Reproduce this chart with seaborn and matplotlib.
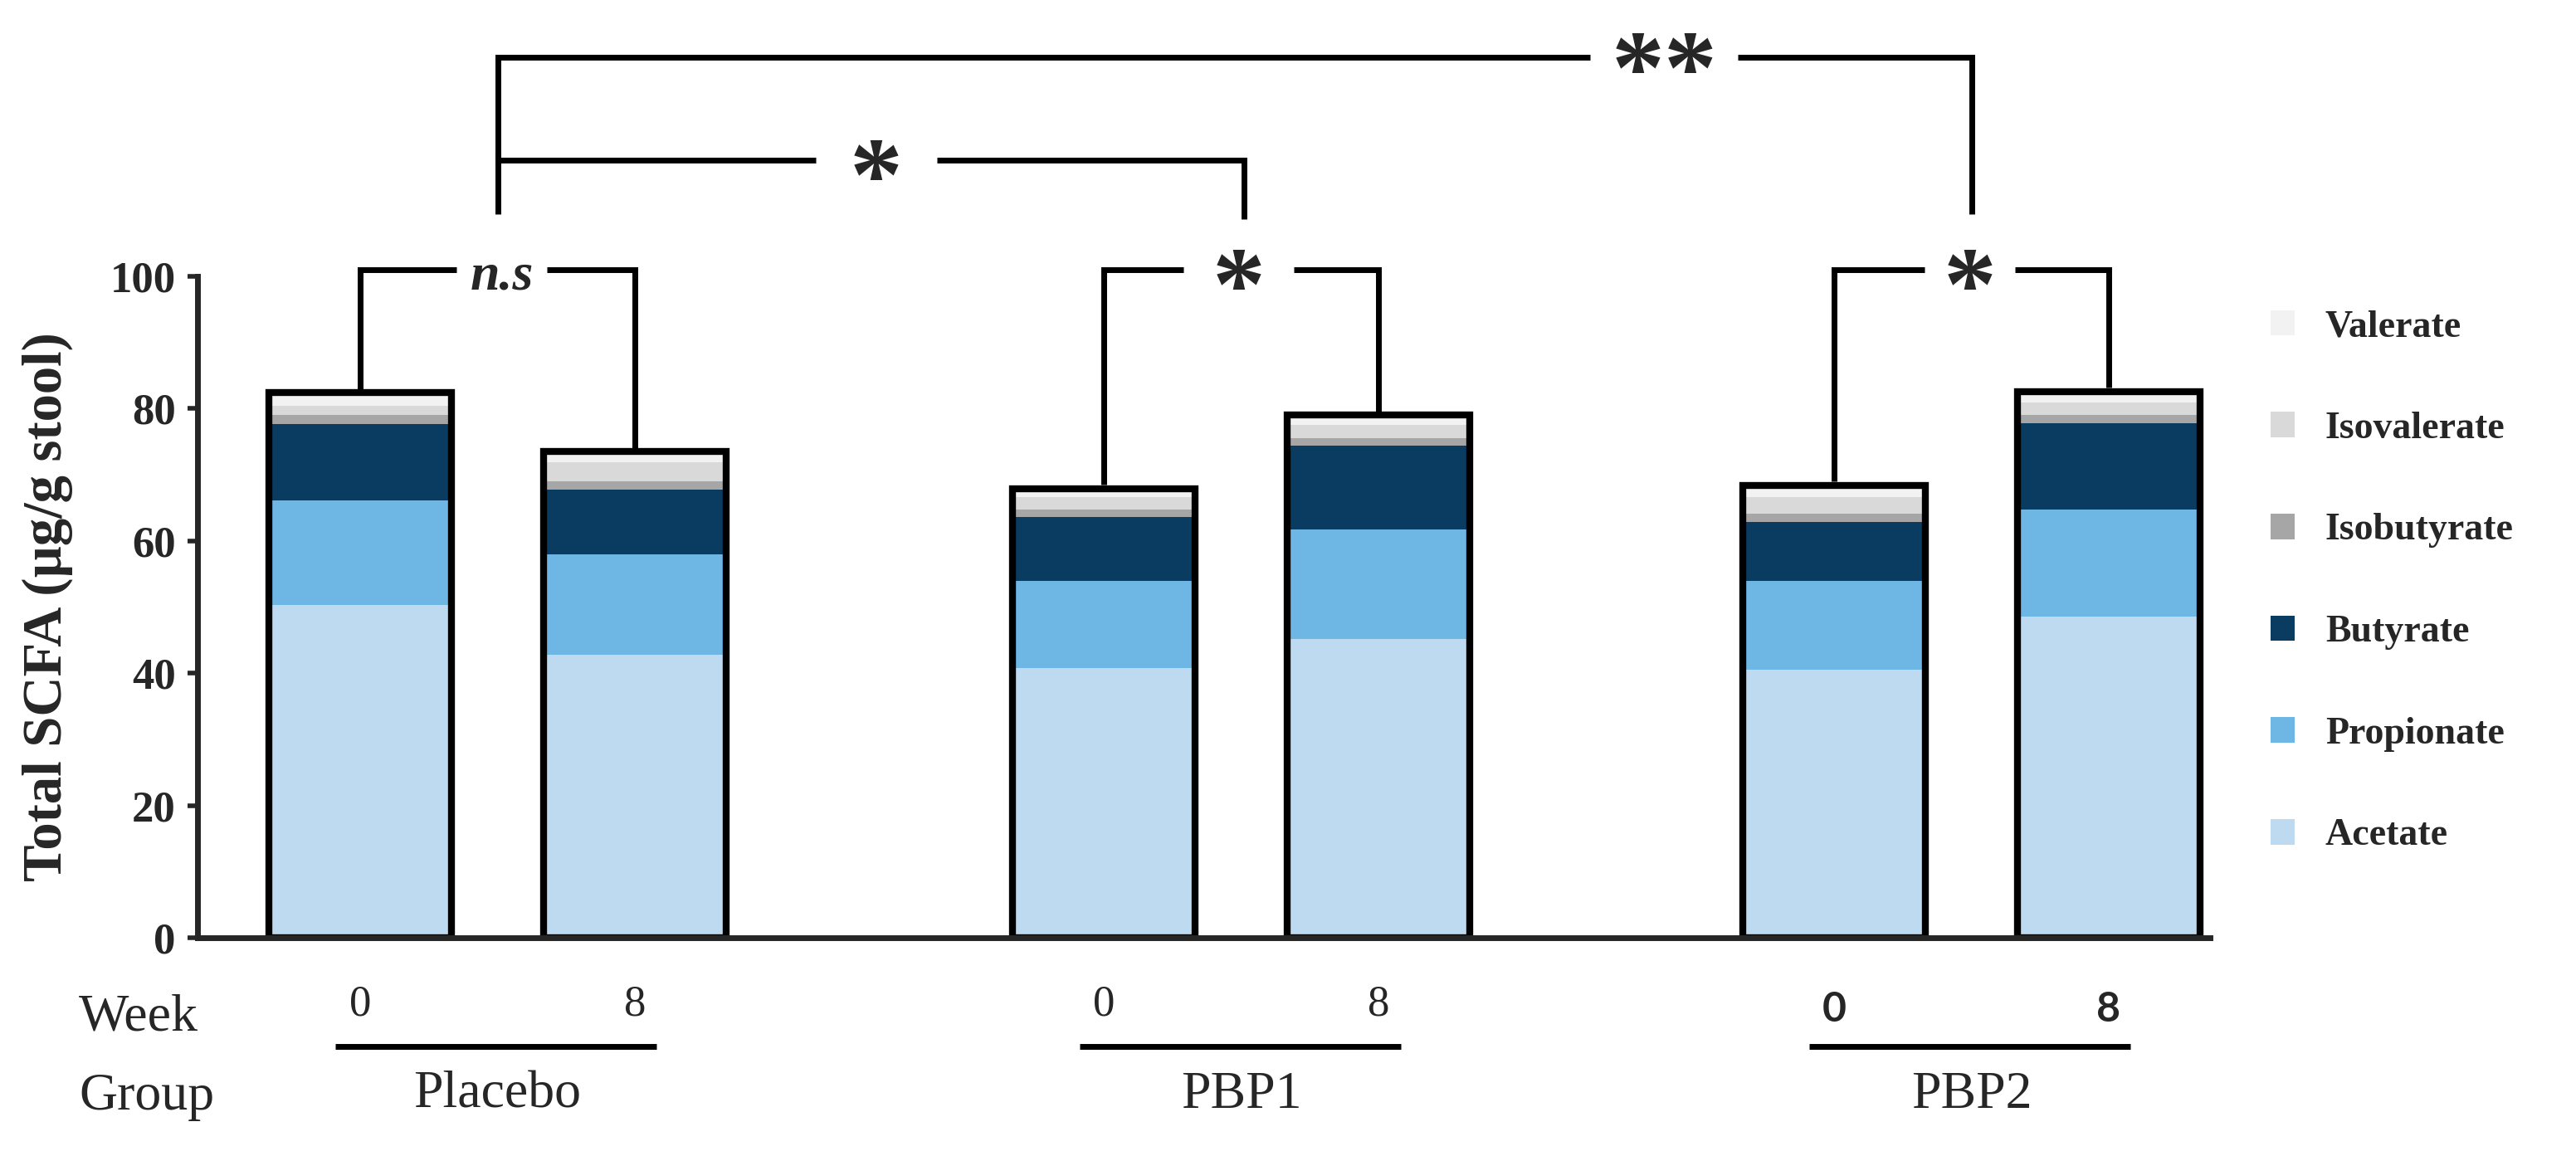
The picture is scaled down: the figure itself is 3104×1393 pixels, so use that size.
import numpy as np
import pandas as pd
import matplotlib.pyplot as plt
import seaborn as sns
from matplotlib.patches import Patch

# SCFA per bar (ug/g stool)
bars = ['Placebo_0', 'Placebo_8', 'PBP1_0', 'PBP1_8', 'PBP2_0', 'PBP2_8']
acetate = [50.3, 42.8, 40.8, 45.2, 40.5, 48.6]
propionate = [15.8, 15.2, 13.2, 16.6, 13.5, 16.2]
butyrate = [11.6, 9.8, 9.6, 12.6, 8.9, 13.0]
isobutyrate = [1.4, 1.2, 1.2, 1.2, 1.2, 1.3]
isovalerate = [1.4, 2.9, 1.8, 1.9, 2.5, 1.9]
valerate = [1.9, 1.6, 1.3, 1.5, 1.8, 1.6]

weeks = ['0', '8', '0', '8', '0', '8']
groups = ['Placebo', 'PBP1', 'PBP2']
acids = ['Acetate', 'Propionate', 'Butyrate', 'Isobutyrate', 'Isovalerate', 'Valerate']
colors = ['#bddaf0', '#6eb6e3', '#0a3c62', '#a6a6a6', '#d9d9d9', '#f2f2f2']

# x position of each bar (groups are spaced wider)
pos = [0, 1, 2.71, 3.71, 5.37, 6.37]

df = pd.DataFrame({'Acetate': acetate, 'Propionate': propionate, 'Butyrate': butyrate,
                   'Isobutyrate': isobutyrate, 'Isovalerate': isovalerate,
                   'Valerate': valerate}, index=bars)
cum = df.cumsum(axis=1)
cum['pos'] = pos
total = cum['Valerate'].values

sns.set_theme(style='ticks')
plt.rcParams['font.family'] = ['Liberation Serif', 'DejaVu Serif']

fig = plt.figure(figsize=(31.04, 13.93), dpi=100)
ax = fig.add_axes([0.0767, 0.1888, 0.7813, 0.778])

W = 0.665
# stacked: draw from the top layer downwards so each covers the part below
for acid, col in reversed(list(zip(acids, colors))):
    sns.barplot(data=cum, x='pos', y=acid, native_scale=True, width=W, color=col,
                saturation=1, linewidth=0, errorbar=None, ax=ax)

# black outline round each whole stack
sns.barplot(data=cum, x='pos', y='Valerate', native_scale=True, width=W, fill=False,
            color='black', linewidth=6, errorbar=None, ax=ax)
for p in ax.patches:
    p.set_joinstyle('miter')

ax.set_xlim(-0.593, 6.74)
ax.set_ylim(0, 136)
ax.set_yticks([0, 20, 40, 60, 80, 100])
ax.set_xticks([])
ax.set_xlabel('')
ax.spines['left'].set_bounds(0, 100)
for s in ['top', 'right']:
    ax.spines[s].set_visible(False)
for s in ['left', 'bottom']:
    ax.spines[s].set_linewidth(5)
ax.tick_params(axis='y', length=9, width=4, pad=10, labelsize=38)
for t in ax.get_yticklabels():
    t.set_fontweight('bold')
ax.set_ylabel('Total SCFA (µg/g stool)', fontsize=48, fontweight='bold')
ax.yaxis.set_label_coords(-0.062, 50 / 136)

# significance brackets
lw = 5
kw = dict(color='black', lw=lw, clip_on=False, solid_capstyle='butt', solid_joinstyle='miter')
# within-group brackets
pairs = [(0, 1, 0.35, 0.68, 'n.s'), (2, 3, 3.0, 3.40, '*'), (4, 5, 5.70, 6.03, '*')]
for i, j, g1, g2, lab in pairs:
    ax.plot([pos[i], pos[i], g1], [total[i] + 0.6, 101, 101], **kw)
    ax.plot([g2, pos[j], pos[j]], [101, 101, total[j] + 0.6], **kw)
    xm = (g1 + g2) / 2
    if lab == 'n.s':
        ax.text(xm, 100, lab, ha='center', va='center', fontsize=46,
                fontstyle='italic', fontweight='bold')
    else:
        ax.text(xm, 93.5, lab, ha='center', va='baseline', fontsize=92, fontweight='bold')

# placebo vs PBP1
ax.plot([0.5, 0.5, 1.66], [109.4, 117.6, 117.6], **kw)
ax.plot([2.10, 3.22, 3.22], [117.6, 117.6, 108.7], **kw)
ax.text(1.88, 110.0, '*', ha='center', va='baseline', fontsize=92, fontweight='bold')
# placebo vs PBP2
ax.plot([0.5, 0.5, 4.48], [117.6, 133.2, 133.2], **kw)
ax.plot([5.02, 5.87, 5.87], [133.2, 133.2, 109.4], **kw)
ax.text(4.75, 126.3, '**', ha='center', va='baseline', fontsize=92, fontweight='bold')

# week / group labels below the axis
for k, (x, w) in enumerate(zip(pos, weeks)):
    if k >= 4:
        ax.text(x, -10.8, w, ha='center', va='center', fontsize=36, fontweight='bold',
                family=['Lato', 'DejaVu Sans'], clip_on=False)
    else:
        ax.text(x, -10.1, w, ha='center', va='center', fontsize=38, clip_on=False)
for g, name in enumerate(groups):
    x0, x1 = pos[2 * g], pos[2 * g + 1]
    ax.plot([x0 - 0.09, x1 + 0.08], [-16.4, -16.4], color='black', lw=5,
            clip_on=False, solid_capstyle='butt')
    ax.text((x0 + x1) / 2, -23.8, name, ha='center', va='center', fontsize=46, clip_on=False)
fig.text(95 / 3104, 1 - 1226 / 1393, 'Week', ha='left', va='center', fontsize=46)
fig.text(95 / 3104, 1 - 1322 / 1393, 'Group', ha='left', va='center', fontsize=46)

handles = [Patch(facecolor=c, edgecolor='none') for c in colors]
leg = fig.legend(handles[::-1], acids[::-1], loc='center left',
                 bbox_to_anchor=(0.868, 0.497), frameon=False,
                 prop={'size': 33, 'weight': 'bold'}, labelspacing=1.76,
                 handlelength=0.65, handleheight=0.65, handletextpad=0.8)

fig.savefig('out.png', dpi=100)
